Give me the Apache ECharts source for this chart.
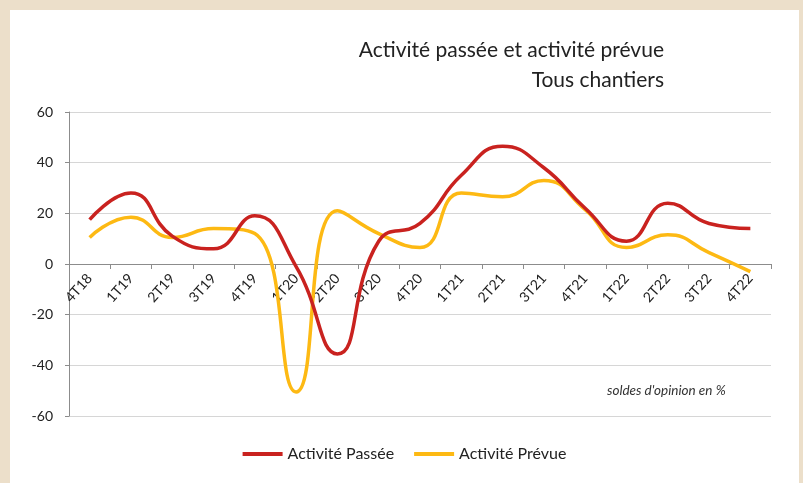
<!DOCTYPE html>
<html>
<head>
<meta charset="utf-8">
<script src="https://cdn.jsdelivr.net/npm/echarts@6/dist/echarts.min.js"></script>
<style>
    html, body { margin: 0; padding: 0; }
    body { width: 803px; height: 483px; background: #ECDFCA; position: relative; overflow: hidden; }
    #panel { position: absolute; left: 10px; top: 10px; width: 789px; height: 473px; background: #ffffff; }
</style>
</head>
<body>
<div id="panel"></div>
<script>
// 数据
var quarters = ['4T18', '1T19', '2T19', '3T19', '4T19', '1T20', '2T20', '3T20', '4T20',
    '1T21', '2T21', '3T21', '4T21', '1T22', '2T22', '3T22', '4T22'];
var activitePassee = [17.5, 28, 11, 6, 19, -1, -35.5, 9, 16, 35, 46.5, 38, 22, 9, 24, 16, 14];
var activitePrevue = [10.5, 18.5, 10.5, 14, 12, -50.5, 21, 12, 6.5, 28, 26.5, 33, 21.5, 6.5, 11.5, 4.5, -3];
var yTicks = { min: -60, max: 60, interval: 20 };

var fontFamily = 'Lato, "Open Sans", sans-serif';

var chart = echarts.init(document.getElementById('panel'));

// 网格尺寸
var gridTop = 102, gridBottom = 67;
var gridHeight = 473 - gridTop - gridBottom;
// x轴放到0的位置
var zeroOffset = -gridHeight * (0 - yTicks.min) / (yTicks.max - yTicks.min);

var option = {
    animation: false,
    legend: {
        left: 'center',
        top: 431,
        icon: 'rect',
        itemWidth: 40,
        itemHeight: 4,
        itemGap: 20,
        textStyle: { fontFamily: fontFamily, fontSize: 16, color: '#222' },
        data: ['Activité Passée', 'Activité Prévue']
    },
    grid: {
        left: 59,
        right: 28,
        top: gridTop,
        bottom: gridBottom
    },
    xAxis: {
        type: 'category',
        data: quarters,
        boundaryGap: true,
        offset: zeroOffset,
        axisLine: { onZero: false, lineStyle: { color: '#8c8c8c', width: 1 } },
        axisTick: { show: true, interval: 0, length: 5, lineStyle: { color: '#8c8c8c' } },
        axisLabel: {
            interval: 0,
            rotate: 48,
            margin: 12,
            fontFamily: fontFamily,
            fontSize: 14,
            color: '#222'
        },
        splitLine: { show: false }
    },
    yAxis: {
        type: 'value',
        min: yTicks.min,
        max: yTicks.max,
        interval: yTicks.interval,
        axisLine: { show: true, lineStyle: { color: '#8c8c8c' } },
        axisTick: { show: true, length: 4, lineStyle: { color: '#8c8c8c' } },
        axisLabel: { fontFamily: fontFamily, fontSize: 14, color: '#222', margin: 16 },
        splitLine: { show: true, lineStyle: { color: '#d6d6d6', width: 1 } }
    },
    graphic: [{
        type: 'text',
        x: 654,
        y: 40,
        style: {
            text: 'Activité passée et activité prévue',
            font: '21px ' + fontFamily,
            fill: '#222',
            textAlign: 'right',
            textVerticalAlign: 'middle'
        }
    }, {
        type: 'text',
        x: 654,
        y: 70,
        style: {
            text: 'Tous chantiers',
            font: '21px ' + fontFamily,
            fill: '#222',
            textAlign: 'right',
            textVerticalAlign: 'middle'
        }
    }, {
        type: 'text',
        x: 597,
        y: 381,
        style: {
            text: "soldes d'opinion en %",
            font: 'italic 13.5px ' + fontFamily,
            fill: '#333',
            textVerticalAlign: 'middle'
        }
    }],
    series: [{
        name: 'Activité Passée',
        type: 'line',
        data: activitePassee,
        smooth: 0.5,
        showSymbol: false,
        color: '#C9221F',
        lineStyle: { width: 3.5, color: '#C9221F' },
        z: 3
    }, {
        name: 'Activité Prévue',
        type: 'line',
        data: activitePrevue,
        smooth: 0.5,
        showSymbol: false,
        color: '#FDB913',
        lineStyle: { width: 3.5, color: '#FDB913' },
        z: 2
    }]
};

chart.setOption(option);
</script>
</body>
</html>
